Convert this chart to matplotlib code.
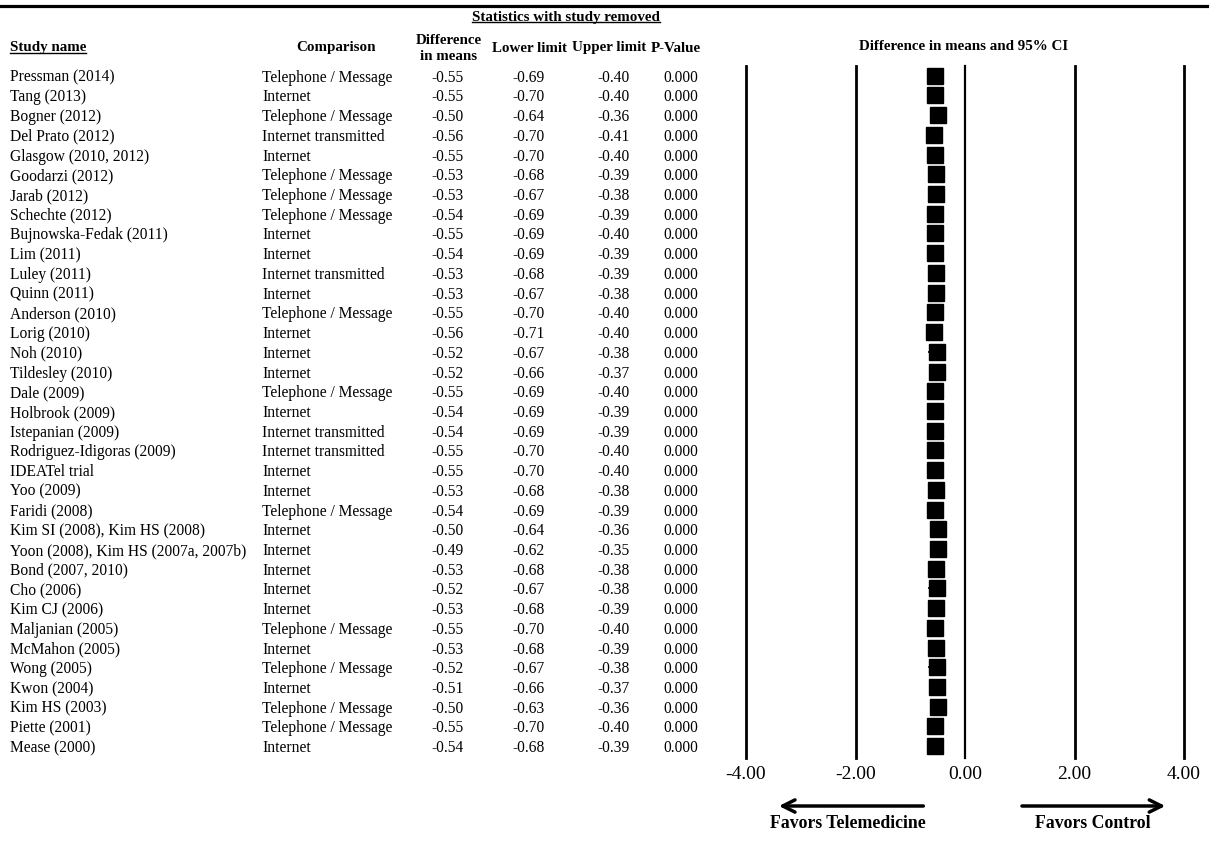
import matplotlib
matplotlib.use("Agg")
import matplotlib.pyplot as plt
from matplotlib import transforms
from matplotlib.lines import Line2D

plt.rcParams['font.family'] = ['Liberation Serif', 'DejaVu Serif']

studies = ["Pressman (2014)", "Tang (2013)", "Bogner (2012)", "Del Prato (2012)",
           "Glasgow (2010, 2012)", "Goodarzi (2012)", "Jarab (2012)", "Schechte (2012)",
           "Bujnowska-Fedak (2011)", "Lim (2011)", "Luley (2011)", "Quinn (2011)",
           "Anderson (2010)", "Lorig (2010)", "Noh (2010)", "Tildesley (2010)",
           "Dale (2009)", "Holbrook (2009)", "Istepanian (2009)", "Rodriguez-Idigoras (2009)",
           "IDEATel trial", "Yoo (2009)", "Faridi (2008)", "Kim SI (2008), Kim HS (2008)",
           "Yoon (2008), Kim HS (2007a, 2007b)", "Bond (2007, 2010)", "Cho (2006)",
           "Kim CJ (2006)", "Maljanian (2005)", "McMahon (2005)", "Wong (2005)",
           "Kwon (2004)", "Kim HS (2003)", "Piette (2001)", "Mease (2000)"]
comparison = ["Telephone / Message", "Internet", "Telephone / Message", "Internet transmitted",
              "Internet", "Telephone / Message", "Telephone / Message", "Telephone / Message",
              "Internet", "Internet", "Internet transmitted", "Internet",
              "Telephone / Message", "Internet", "Internet", "Internet",
              "Telephone / Message", "Internet", "Internet transmitted", "Internet transmitted",
              "Internet", "Internet", "Telephone / Message", "Internet",
              "Internet", "Internet", "Internet",
              "Internet", "Telephone / Message", "Internet", "Telephone / Message",
              "Internet", "Telephone / Message", "Telephone / Message", "Internet"]
diff = [-0.55, -0.55, -0.50, -0.56, -0.55, -0.53, -0.53, -0.54, -0.55, -0.54, -0.53, -0.53,
        -0.55, -0.56, -0.52, -0.52, -0.55, -0.54, -0.54, -0.55, -0.55, -0.53, -0.54, -0.50,
        -0.49, -0.53, -0.52, -0.53, -0.55, -0.53, -0.52, -0.51, -0.50, -0.55, -0.54]
lower = [-0.69, -0.70, -0.64, -0.70, -0.70, -0.68, -0.67, -0.69, -0.69, -0.69, -0.68, -0.67,
         -0.70, -0.71, -0.67, -0.66, -0.69, -0.69, -0.69, -0.70, -0.70, -0.68, -0.69, -0.64,
         -0.62, -0.68, -0.67, -0.68, -0.70, -0.68, -0.67, -0.66, -0.63, -0.70, -0.68]
upper = [-0.40, -0.40, -0.36, -0.41, -0.40, -0.39, -0.38, -0.39, -0.40, -0.39, -0.39, -0.38,
         -0.40, -0.40, -0.38, -0.37, -0.40, -0.39, -0.39, -0.40, -0.40, -0.38, -0.39, -0.36,
         -0.35, -0.38, -0.38, -0.39, -0.40, -0.39, -0.38, -0.37, -0.36, -0.40, -0.39]
pvalue = ["0.000"] * 35
xticks = [-4, -2, 0, 2, 4]
xtick_labels = ["-4.00", "-2.00", "0.00", "2.00", "4.00"]

W, H = 1211, 845
fig = plt.figure(figsize=(W / 100, H / 100), dpi=100)
fig.patch.set_facecolor("white")

def fx(px):
    return px / W

def fy(py):
    return 1 - py / H

n = len(studies)
ax_top, ax_bot = 67, 759
ax_l, ax_r = 746, 1184
ax = fig.add_axes([fx(ax_l), fy(ax_bot), fx(ax_r) - fx(ax_l), (ax_bot - ax_top) / H])
row0, step = 76.7, 19.72
ax.set_xlim(-4, 4)
ax.set_ylim((ax_bot - row0) / step, (ax_top - row0) / step)
for s in ax.spines.values():
    s.set_visible(False)
ax.set_yticks([])
ax.set_xticks(xticks, xtick_labels, fontsize=14)
ax.tick_params(axis='x', length=0, pad=5)

for xv in xticks:
    ax.axvline(xv, color="black", lw=2.0 if xv != 0 else 1.6, clip_on=False)

ys = list(range(n))
ax.hlines(ys, lower, upper, color="black", lw=1.2)
ax.plot(diff, ys, linestyle="none", marker="s", markersize=11.3, color="black")

# arrows and favors text
xt = ax.get_xaxis_transform()
ya = (ax_bot - 807) / (ax_bot - ax_top)
yt = (ax_bot - 824) / (ax_bot - ax_top)
ax.annotate("", xy=(-3.45, ya), xytext=(-0.71, ya), xycoords=xt, textcoords=xt,
            arrowprops=dict(arrowstyle="->", lw=2.5, color="black", mutation_scale=22))
ax.annotate("", xy=(3.71, ya), xytext=(0.99, ya), xycoords=xt, textcoords=xt,
            arrowprops=dict(arrowstyle="->", lw=2.5, color="black", mutation_scale=22))
ax.text(-2.14, yt, "Favors Telemedicine", transform=xt, ha="center", va="center",
        fontsize=12.8, fontweight="bold", clip_on=False)
ax.text(2.33, yt, "Favors Control", transform=xt, ha="center", va="center",
        fontsize=12.8, fontweight="bold", clip_on=False)

# table
tr0 = transforms.blended_transform_factory(fig.transFigure, ax.transData)
tr = transforms.offset_copy(tr0, fig=fig, y=-5, units="dots")
fs = 11.2
hfs = 10.8
va = "baseline"
for i in range(n):
    fig.text(fx(10), i, studies[i], transform=tr, ha="left", va=va, fontsize=fs)
    fig.text(fx(262), i, comparison[i], transform=tr, ha="left", va=va, fontsize=fs)
    fig.text(fx(464), i, f"{diff[i]:.2f}", transform=tr, ha="right", va=va, fontsize=fs)
    fig.text(fx(545), i, f"{lower[i]:.2f}", transform=tr, ha="right", va=va, fontsize=fs)
    fig.text(fx(630), i, f"{upper[i]:.2f}", transform=tr, ha="right", va=va, fontsize=fs)
    fig.text(fx(698), i, pvalue[i], transform=tr, ha="right", va=va, fontsize=fs)

# headers
title = fig.text(fx(566), fy(17), "Statistics with study removed", ha="center", va="center",
                 fontsize=hfs, fontweight="bold")
sn = fig.text(fx(10), fy(48), "Study name", ha="left", va="center", fontsize=hfs, fontweight="bold")
fig.text(fx(336), fy(48), "Comparison", ha="center", va="center", fontsize=hfs, fontweight="bold")
fig.text(fx(449), fy(48), "Difference\nin means", ha="center", va="center", fontsize=hfs,
         fontweight="bold", linespacing=1.3)
fig.text(fx(492), fy(48), "Lower limit", ha="left", va="center", fontsize=hfs, fontweight="bold")
fig.text(fx(609), fy(48), "Upper limit", ha="center", va="center", fontsize=hfs, fontweight="bold")
fig.text(fx(701), fy(48), "P-Value", ha="right", va="center", fontsize=hfs, fontweight="bold")
fig.text(fx(964), fy(47), "Difference in means and 95% CI", ha="center", va="center",
         fontsize=hfs, fontweight="bold")

# top rule
fig.add_artist(Line2D([0, fx(1207)], [fy(7), fy(7)], color="black", lw=2.3))

# underlines
fig.canvas.draw()
r = fig.canvas.get_renderer()
for t in (title, sn):
    bb = t.get_window_extent(renderer=r)
    yline = bb.y0 + 1
    fig.add_artist(Line2D([bb.x0 / W, bb.x1 / W], [yline / H, yline / H], color="black", lw=1.0))

fig.savefig("out.png", dpi=100, facecolor="white")
